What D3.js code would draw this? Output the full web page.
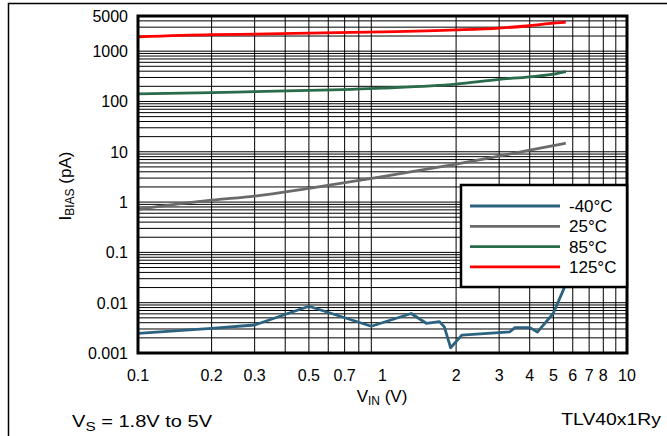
<!DOCTYPE html>
<html>
<head>
<meta charset="utf-8">
<script src="https://cdn.jsdelivr.net/npm/d3@7"></script>
<style>
  body { margin: 0; background: #fff; }
  text { font-family: Arial, "Liberation Sans", sans-serif; fill: #000; }
</style>
</head>
<body>
<div id="chart"></div>
<script>
// input voltage points (V) for the smooth curves
const vin = [0.1, 0.2, 0.3, 0.5, 1, 2, 3, 4, 5, 5.62];

// bias current in pA
const bias25 = [0.72, 1.09, 1.32, 1.88, 3.2, 5.7, 8.2, 10.8, 13.3, 14.8];
const bias85 = [141, 150, 157, 166, 185, 222, 275, 309, 350, 394];
const bias125 = [1920, 2130, 2180, 2280, 2410, 2640, 2880, 3200, 3600, 3780];

// -40C is noisy, own x points
const vinCold = [0.1, 0.2, 0.3, 0.5, 0.9, 1.31, 1.51, 1.71, 1.79, 1.9, 2.11, 3.32, 3.48, 4.01, 4.3, 4.99, 5.52, 5.62];
const biasCold = [0.00245, 0.0031, 0.0036, 0.0085, 0.0034, 0.0061, 0.0039, 0.0042, 0.0033, 0.00127, 0.00227, 0.00264, 0.0032, 0.0032, 0.0026, 0.0061, 0.019, 0.03];

const legendLabels = ["-40°C", "25°C", "85°C", "125°C"];
const colors = ["#2b627f", "#6a6a6a", "#2a6b4b", "#ff0000"];

const xTicks = [0.1, 0.2, 0.3, 0.5, 0.7, 1, 2, 3, 4, 5, 6, 7, 8, 10];
const yTicks = [0.001, 0.01, 0.1, 1, 10, 100, 1000, 5000];

let width = 667, height = 436;
const pLeft = 138, pRight = 627, pTop = 16, pBottom = 353; // plot frame

let svg = d3.select('#chart').append('svg')
  .attr('width', width)
  .attr('height', height);

// outer border
svg.append('rect')
  .attr('x', 8.5).attr('y', 3.5)
  .attr('width', 700).attr('height', 500)
  .attr('fill', 'none').attr('stroke', '#000').attr('stroke-width', 1.5);

let x = d3.scaleLog().domain([0.1, 10]).range([pLeft, pRight]);
let y = d3.scaleLog().domain([0.001, 5000]).range([pBottom, pTop]);

// grid values
let xGrid = [];
[0.1, 1].forEach(function(d){ for (let k = 2; k <= 9; k++) xGrid.push(d * k); });
let yGrid = [];
[0.001, 0.01, 0.1, 1, 10, 100, 1000].forEach(function(d){
  for (let k = 1; k <= 9; k++) { if (d * k < 5000 && !(d === 0.001 && k === 1)) yGrid.push(d * k); }
});

let grid = svg.append('g');
grid.selectAll('.hg').data(yGrid).enter().append('line')
  .attr('x1', pLeft).attr('x2', pRight)
  .attr('y1', function(d){ return y(d); }).attr('y2', function(d){ return y(d); })
  .attr('stroke', '#000').attr('stroke-width', 1);
grid.selectAll('.vg').data(xGrid).enter().append('line')
  .attr('y1', pTop).attr('y2', pBottom)
  .attr('x1', function(d){ return x(d); }).attr('x2', function(d){ return x(d); })
  .attr('stroke', '#000').attr('stroke-width', 1);

// curves
let line = d3.line()
  .x(function(d){ return x(d[0]); })
  .y(function(d){ return y(d[1]); });

const series = [
  d3.zip(vinCold, biasCold),
  d3.zip(vin, bias25),
  d3.zip(vin, bias85),
  d3.zip(vin, bias125)
];
const smooth = [false, true, true, true];

series.forEach(function(s, i){
  svg.append('path')
    .attr('d', line.curve(smooth[i] ? d3.curveMonotoneX : d3.curveLinear)(s))
    .attr('fill', 'none')
    .attr('stroke', colors[i])
    .attr('stroke-width', 2.8)
    .attr('stroke-linejoin', 'round');
});

// frame
svg.append('rect')
  .attr('x', pLeft).attr('y', pTop)
  .attr('width', pRight - pLeft).attr('height', pBottom - pTop)
  .attr('fill', 'none').attr('stroke', '#000').attr('stroke-width', 3);

// tick labels
svg.selectAll('.xt').data(xTicks).enter().append('text')
  .attr('x', function(d){ return x(d); })
  .attr('y', 381)
  .attr('text-anchor', 'middle')
  .style('font-size', '16px')
  .text(function(d){ return d; });

svg.selectAll('.yt').data(yTicks).enter().append('text')
  .attr('x', 128)
  .attr('y', function(d){ return y(d) + 6; })
  .attr('text-anchor', 'end')
  .style('font-size', '16px')
  .text(function(d){ return d; });

// axis titles
let xt = svg.append('text')
  .attr('x', 382).attr('y', 402)
  .attr('text-anchor', 'middle')
  .style('font-size', '17px');
xt.append('tspan').text('V');
xt.append('tspan').attr('dy', 3).style('font-size', '12px').text('IN');
xt.append('tspan').attr('dy', -3).text(' (V)');

let yt = svg.append('text')
  .attr('transform', 'translate(71,186) rotate(-90)')
  .attr('text-anchor', 'middle')
  .style('font-size', '17px');
yt.append('tspan').text('I');
yt.append('tspan').attr('dy', 3).style('font-size', '12px').text('BIAS');
yt.append('tspan').attr('dy', -3).text(' (pA)');

// legend
let legend = svg.append('g');
legend.append('rect')
  .attr('x', 461).attr('y', 185)
  .attr('width', pRight - 461).attr('height', 102)
  .attr('fill', '#fff').attr('stroke', '#000').attr('stroke-width', 2.5);

legendLabels.forEach(function(lab, i){
  let ly = 206 + i * 20.3;
  legend.append('line')
    .attr('x1', 470).attr('x2', 560)
    .attr('y1', ly).attr('y2', ly)
    .attr('stroke', colors[i]).attr('stroke-width', 2.8);
  legend.append('text')
    .attr('x', 569).attr('y', ly + 6)
    .style('font-size', '17px')
    .text(lab);
});

// footer notes (source text is a bit wider than Arial)
let vs = svg.append('text')
  .attr('transform', 'translate(72,427) scale(1.18,1)')
  .style('font-size', '17px');
vs.append('tspan').text('V');
vs.append('tspan').attr('dy', 4).style('font-size', '13px').text('S');
vs.append('tspan').attr('dy', -4).text(' = 1.8V to 5V');

svg.append('text')
  .attr('transform', 'translate(661,425) scale(1.14,1)')
  .attr('text-anchor', 'end')
  .style('font-size', '17px')
  .text('TLV40x1Ry');
</script>
</body>
</html>
